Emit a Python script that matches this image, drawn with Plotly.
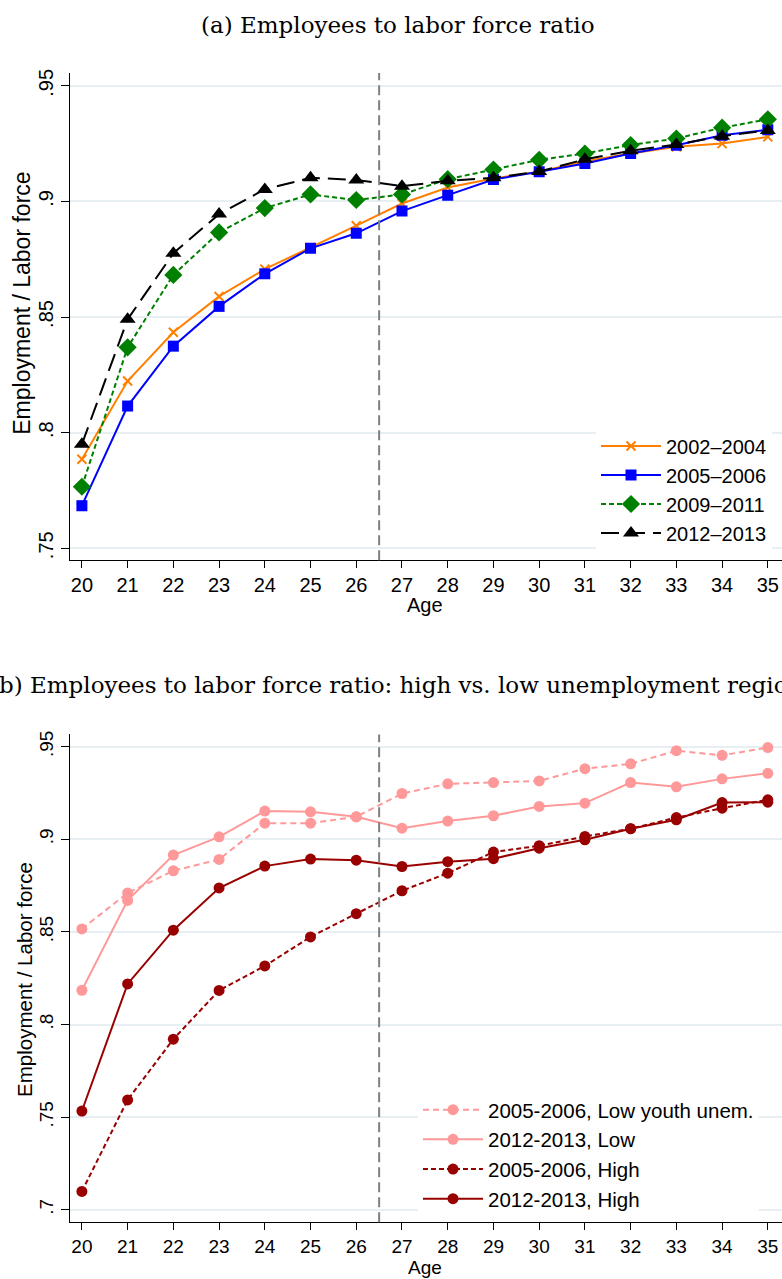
import plotly.graph_objects as go

ages = list(range(20, 36))

# Panel (a)
emp_2002_2004 = [.7885, .8223, .8434, .8589, .8707, .8800, .8895, .8991, .9060, .9099, .9128, .9174, .9207, .9236, .9250, .9279]
emp_2005_2006 = [.7684, .8115, .8374, .8546, .8687, .8797, .8862, .8958, .9027, .9095, .9128, .9164, .9207, .9243, .9286, .9310]
emp_2009_2011 = [.7766, .8369, .8682, .8866, .8971, .9030, .9006, .9030, .9096, .9138, .9180, .9207, .9244, .9272, .9319, .9355]
emp_2012_2013 = [.7950, .8490, .8776, .8945, .9052, .9102, .9093, .9066, .9089, .9102, .9129, .9182, .9219, .9246, .9282, .9307]

# Panel (b)
low_2005_2006 = [.8516, .8710, .8830, .8891, .9087, .9087, .9121, .9247, .9299, .9306, .9315, .9381, .9407, .9478, .9453, .9495]
low_2012_2013 = [.8185, .8670, .8915, .9013, .9152, .9148, .9121, .9060, .9098, .9127, .9177, .9195, .9306, .9283, .9326, .9356]
high_2005_2006 = [.7099, .7593, .7921, .8184, .8316, .8473, .8598, .8722, .8817, .8931, .8965, .9015, .9057, .9117, .9168, .9213]
high_2012_2013 = [.7533, .8219, .8509, .8737, .8855, .8893, .8887, .8853, .8879, .8895, .8952, .8997, .9057, .9105, .9198, .9200]

yticks_a = [.75, .8, .85, .9, .95]
yticks_a_text = ['.75', '.8', '.85', '.9', '.95']
yticks_b = [.7, .75, .8, .85, .9, .95]
yticks_b_text = ['.7', '.75', '.8', '.85', '.9', '.95']
cutoff_age = 26.5

W, H = 782, 1279
SANS = "Liberation Sans, Arial, sans-serif"
SERIF = "DejaVu Serif, serif"

fig = go.Figure()

series_a = [
    ("2002\u20132004", emp_2002_2004, "#FF8000", "solid", "x-thin", 9, 2),
    ("2005\u20132006", emp_2005_2006, "#0000FF", "solid", "square", 11, 0),
    ("2009\u20132011", emp_2009_2011, "#008000", "5px,3px", "diamond", 14, 0),
    ("2012\u20132013", emp_2012_2013, "#000000", "18px,8px", "triangle-up", 14, 0),
]
for name, vals, col, dash, sym, size, mlw in series_a:
    fig.add_trace(go.Scatter(
        x=ages, y=vals, name=name, mode="lines+markers",
        line=dict(color=col, width=2, dash=dash),
        marker=dict(symbol=sym, size=size, color=col, line=dict(color=col, width=mlw)),
        xaxis="x", yaxis="y", legend="legend",
    ))

series_b = [
    ("2005-2006, Low youth unem.", low_2005_2006, "#FF9999", "6px,4px"),
    ("2012-2013, Low", low_2012_2013, "#FF9999", "solid"),
    ("2005-2006, High", high_2005_2006, "#990000", "5px,3px"),
    ("2012-2013, High", high_2012_2013, "#990000", "solid"),
]
for name, vals, col, dash in series_b:
    fig.add_trace(go.Scatter(
        x=ages, y=vals, name=name, mode="lines+markers",
        line=dict(color=col, width=2, dash=dash),
        marker=dict(symbol="circle", size=11, color=col),
        xaxis="x2", yaxis="y2", legend="legend2",
    ))

xr = [19.74, 35.31]
grid_col = "#E8EFF2"


def xax(domain_anchor, fs):
    return dict(domain=[70 / W, 1], range=xr, anchor=domain_anchor,
                tickmode="array", tickvals=ages, ticktext=[str(a) for a in ages],
                ticks="outside", ticklen=7, tickwidth=1.3, tickcolor="black",
                showline=True, linecolor="black", linewidth=1.3,
                showgrid=False, zeroline=False,
                tickfont=dict(family=SANS, size=fs, color="black"))


def yax(domain, rng, tv, tt, anchor, fs):
    return dict(domain=domain, range=rng, anchor=anchor,
                tickmode="array", tickvals=tv, ticktext=tt, tickangle=-90,
                ticks="outside", ticklen=8, tickwidth=1.3, tickcolor="black",
                showline=True, linecolor="black", linewidth=1.3,
                showgrid=True, gridcolor=grid_col, gridwidth=2, zeroline=False,
                tickfont=dict(family=SANS, size=fs, color="black"))


fig.update_layout(
    width=W, height=H, margin=dict(l=0, r=0, t=0, b=0),
    paper_bgcolor="white", plot_bgcolor="white",
    xaxis=xax("y", 20),
    yaxis=yax([1 - 558 / H, 1 - 69.3 / H], [.7448, .9555], yticks_a, yticks_a_text, "x", 20),
    xaxis2=xax("y2", 19),
    yaxis2=yax([1 - 1222 / H, 1 - 732.7 / H], [.6933, .9566], yticks_b, yticks_b_text, "x2", 19),
    legend=dict(x=772 / W, xanchor="right", y=1 - 487 / H, yanchor="middle",
                bgcolor="white", borderwidth=0, itemwidth=60,
                font=dict(family=SANS, size=20, color="black")),
    legend2=dict(x=759 / W, xanchor="right", y=1 - 1154 / H, yanchor="middle",
                 bgcolor="white", borderwidth=0, itemwidth=60,
                 font=dict(family=SANS, size=20.5, color="black")),
    showlegend=True,
)

for xa, ya in [("x", "y"), ("x2", "y2")]:
    fig.add_shape(type="line", xref=xa, yref=f"{ya} domain", x0=cutoff_age, x1=cutoff_age,
                  y0=0, y1=1, line=dict(color="#808080", width=2, dash="10px,5px"), layer="above")

ann = [
    dict(text="(a) Employees to labor force ratio", x=397 / W, y=1 - 21 / H,
         font=dict(family=SERIF, size=23, color="black")),
    dict(text="(b) Employees to labor force ratio: high vs. low unemployment regions", x=402 / W, y=1 - 683 / H,
         font=dict(family=SERIF, size=23, color="black")),
    dict(text="Employment / Labor force", x=21.7 / W, y=1 - 300 / H, textangle=-90,
         font=dict(family=SANS, size=23, color="black")),
    dict(text="Employment / Labor force", x=25 / W, y=1 - 979 / H, textangle=-90,
         font=dict(family=SANS, size=20.5, color="black")),
    dict(text="Age", x=425 / W, y=1 - 603 / H, font=dict(family=SANS, size=20, color="black")),
    dict(text="Age", x=425 / W, y=1 - 1267 / H, font=dict(family=SANS, size=19, color="black")),
]
for a in ann:
    fig.add_annotation(xref="paper", yref="paper", xanchor="center", yanchor="middle",
                       showarrow=False, **a)

fig.write_html("out.html")
